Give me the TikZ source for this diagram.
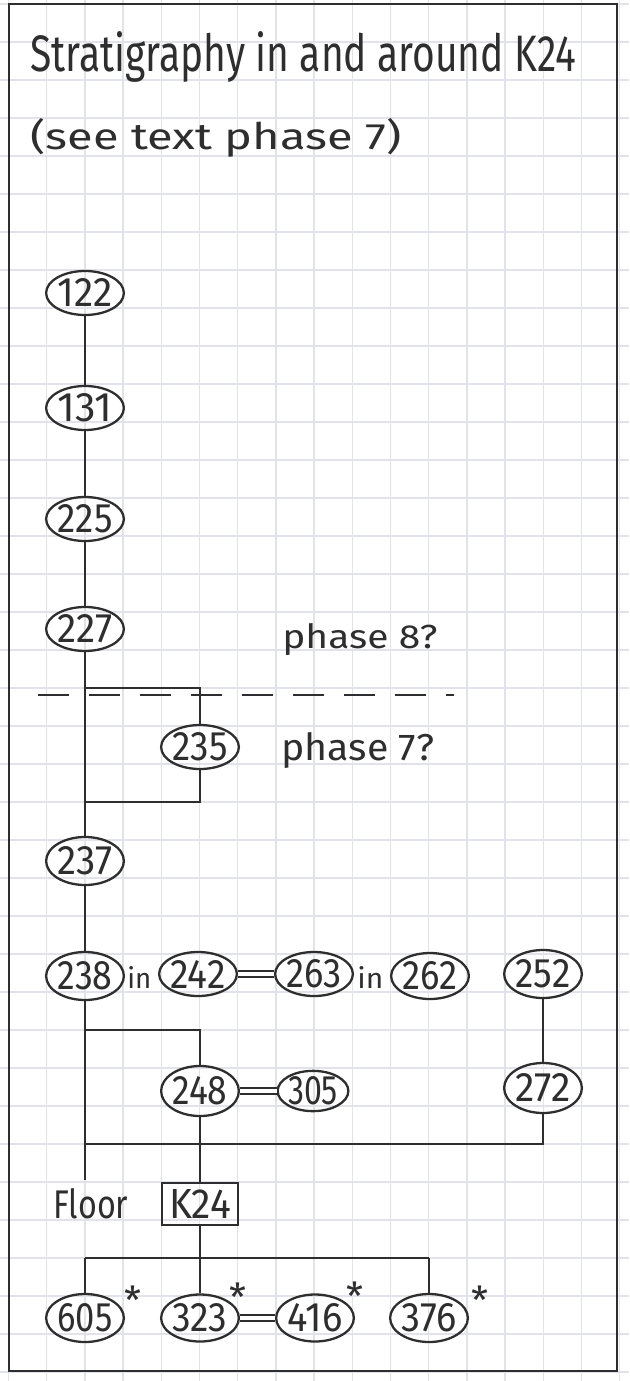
\documentclass[tikz,border=0pt]{standalone}
\usepackage{fontspec}
\setmainfont{Fira Sans}
\usepackage{graphicx}
\usetikzlibrary{shapes.geometric}
\definecolor{ink}{HTML}{2E2E2E}
\definecolor{gridc}{HTML}{E2E2EA}
\newcommand\nm[2][1.1cm]{\resizebox{#1}{0.56cm}{#2}}
\newcommand\fitto[3]{\resizebox{#1}{#2}{#3}}
\begin{document}
\begin{tikzpicture}[x=0.02cm,y=-0.02cm,
  unit/.style={ellipse, draw=ink, line width=1.3pt, inner sep=0pt,
    minimum width=1.36cm, minimum height=0.88cm, text=ink},
  kbox/.style={rectangle, draw=ink, line width=1.2pt, inner sep=0pt,
    minimum width=1.52cm, minimum height=0.84cm, text=ink},
  conn/.style={draw=ink, line width=1.1pt},
  dbl/.style={draw=ink, line width=0.9pt, double=white, double distance=2.4pt},
  phaseline/.style={draw=ink, line width=1.2pt, dash pattern=on 0.62cm off 0.4cm},
  lbl/.style={anchor=base west, inner sep=0pt, text=ink},
  star/.style={inner sep=0pt, text=ink, font=\fontsize{22}{22}\selectfont}]
\useasboundingbox (0,0) rectangle (629,1381);
\fill[white] (0,0) rectangle (629,1381);
% graph paper
\foreach \i in {0,...,16} \draw[gridc, line width=0.8pt] ({8.4+38.2*\i},0) -- ({8.4+38.2*\i},1381);
\foreach \j in {0,...,36} \draw[gridc, line width=0.8pt] (0,{4+38*\j}) -- (629,{4+38*\j});
% frame
\draw[ink, line width=1.5pt] (9,4) rectangle (617,1371);
% titles
\node[lbl] (title1) at (30,72) {\fitto{10.92cm}{0.8cm}{Stratigraphy in and around K24}};
\node[lbl] (title2) at (30,150) {\fitto{7.42cm}{0.62cm}{(see text phase 7)}};
\node[lbl] (ph8) at (282,648) {\fitto{3.1cm}{0.5cm}{phase 8?}};
\node[lbl] (ph7) at (281,760) {\fitto{3.06cm}{0.56cm}{phase 7?}};
% phase boundary
\coordinate (pl1) at (38,695);
\coordinate (pl2) at (454,695);
\draw[phaseline] (pl1) -- (pl2);
% units
\node[unit] (n122) at (85,293) {\nm{122}};
\node[unit] (n131) at (85,408) {\nm{131}};
\node[unit] (n225) at (85,519) {\nm{225}};
\node[unit] (n227) at (85,629) {\nm{227}};
\node[unit, minimum width=1.32cm] (n235) at (200,747) {\nm{235}};
\node[unit, minimum width=1.44cm, minimum height=0.96cm] (n237) at (85,861) {\nm{237}};
\node[unit, minimum height=0.96cm] (n238) at (85,976) {\nm{238}};
\node[unit, minimum width=1.26cm] (n242) at (198,974) {\nm{242}};
\node[unit, minimum width=1.26cm] (n263) at (314,974) {\nm{263}};
\node[unit, minimum width=1.52cm, minimum height=0.92cm] (n262) at (430,976) {\nm{262}};
\node[unit, minimum width=1.44cm, minimum height=0.96cm] (n252) at (543,974) {\nm{252}};
\node[unit, minimum width=1.3cm, minimum height=1.0cm] (n248) at (200,1091) {\nm{248}};
\node[unit, minimum width=1.28cm, minimum height=0.76cm] (n305) at (313,1091) {\nm[1.0cm]{305}};
\node[unit, minimum width=1.24cm, minimum height=1.0cm] (n272) at (543,1088) {\nm{272}};
\node[kbox] (k24) at (200,1204) {\fitto{1.24cm}{0.58cm}{K24}};
\node[unit, minimum height=0.96cm] (n605) at (85,1318) {\nm{605}};
\node[unit, minimum height=0.94cm] (n323) at (200,1318) {\nm{323}};
\node[unit, minimum width=1.2cm, minimum height=0.94cm] (n416) at (315,1318) {\nm{416}};
\node[unit, minimum width=1.48cm, minimum height=0.96cm] (n376) at (429,1318) {\nm{376}};
% in-labels and floor
\node[lbl] (in1) at (127,988) {\fitto{0.48cm}{0.44cm}{in}};
\node[lbl] (in2) at (357,988) {\fitto{0.52cm}{0.44cm}{in}};
\node[lbl] (floor) at (53,1218) {\fitto{1.5cm}{0.6cm}{Floor}};
% asterisks
\node[star] (s605) at (133,1300) {*};
\node[star] (s323) at (238,1297) {*};
\node[star] (s416) at (355,1296) {*};
\node[star] (s376) at (480,1300) {*};
% main column
\draw[conn] (n122) -- (n131);
\draw[conn] (n131) -- (n225);
\draw[conn] (n225) -- (n227);
\draw[conn] (n227) -- (n237);
\draw[conn] (n237) -- (n238);
\coordinate (floortop) at (85,1180);
\draw[conn] (n238.south) -- (floortop);
% 235 bracket
\coordinate (b1) at (85,688);
\coordinate (b2) at (200,688);
\coordinate (b3) at (200,802);
\coordinate (b4) at (85,802);
\draw[conn] (b1) -- (b2) -- (n235.north);
\draw[conn] (n235.south) -- (b3) -- (b4);
% 248 bracket
\coordinate (c1) at (85,1030);
\coordinate (c2) at (200,1030);
\draw[conn] (c1) -- (c2) -- (n248.north);
\draw[conn] (n248.south) -- (k24.north);
% 252 / 272
\draw[conn] (n252) -- (n272);
\coordinate (d1) at (543,1144);
\coordinate (d2) at (85,1144);
\draw[conn] (n272.south) -- (d1) -- (d2);
% below K24
\coordinate (e0) at (200,1258);
\coordinate (e1) at (85,1258);
\coordinate (e2) at (429,1258);
\draw[conn] (k24.south) -- (e0);
\draw[conn] (e1) -- (e2);
\draw[conn] (e1) -- (n605.north);
\draw[conn] (e0) -- (n323.north);
\draw[conn] (e2) -- (n376.north);
% equivalences
\draw[dbl] (n242) -- (n263);
\draw[dbl] (n248) -- (n305);
\draw[dbl] (n323) -- (n416);
\end{tikzpicture}
\end{document}
